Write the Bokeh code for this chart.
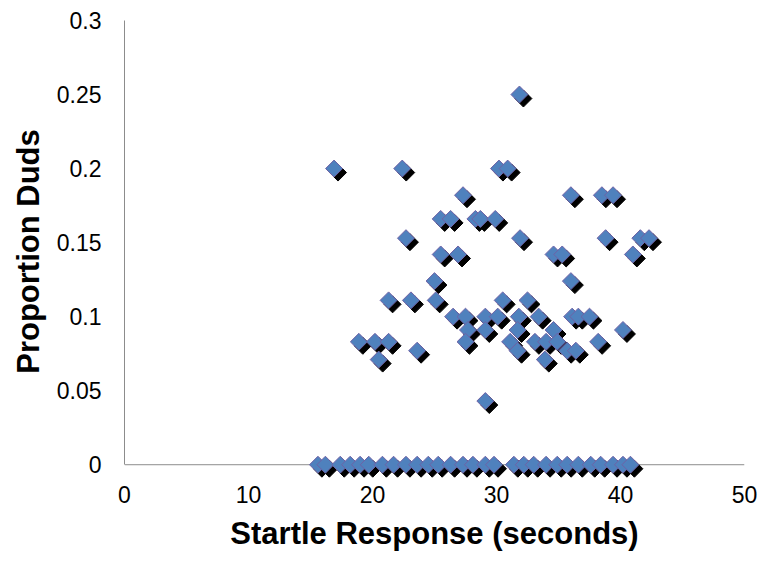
import numpy as np
from bokeh.plotting import figure
from bokeh.models import ColumnDataSource, FixedTicker, Range1d, Span
from bokeh.transform import dodge
from bokeh.embed import file_html
from bokeh.resources import INLINE

# Startle response (seconds) and proportion of duds
startle = [
    31.85,
    16.9, 22.4, 30.2, 30.9,
    27.3, 36.0, 38.5, 39.4,
    25.5, 26.3, 28.3, 28.7, 29.9,
    22.7, 31.9, 38.8, 41.6, 42.3,
    25.5, 26.9, 34.6, 35.3, 41.0,
    25.0, 36.0,
    21.3, 23.1, 25.1, 30.5, 32.5,
    26.5, 27.5, 29.1, 30.1, 31.8, 33.4, 36.1, 36.6, 37.5,
    27.7, 29.1, 31.7, 34.6, 40.2,
    18.9, 20.2, 21.3, 27.5, 31.1, 33.1, 34.0, 34.9, 38.2,
    23.6, 31.7, 35.7, 36.4,
    20.5, 33.9,
    29.1,
    15.6, 16.2, 17.4, 18.2, 19.0, 19.7, 20.8, 21.7, 22.7, 23.6, 24.5, 25.3,
    26.3, 27.3, 28.1, 29.1, 29.8, 31.4, 32.2, 33.0, 34.0, 34.9, 35.7, 36.6,
    37.6, 38.4, 39.4, 40.2, 40.8,
]
duds = [
    0.25,
    0.2, 0.2, 0.2, 0.2,
    0.182, 0.182, 0.182, 0.182,
    0.166, 0.166, 0.166, 0.166, 0.166,
    0.153, 0.153, 0.153, 0.153, 0.153,
    0.142, 0.142, 0.142, 0.142, 0.142,
    0.124, 0.124,
    0.111, 0.111, 0.111, 0.111, 0.111,
    0.1, 0.1, 0.1, 0.1, 0.1, 0.1, 0.1, 0.1, 0.1,
    0.091, 0.091, 0.091, 0.091, 0.091,
    0.083, 0.083, 0.083, 0.083, 0.083, 0.083, 0.083, 0.083, 0.083,
    0.077, 0.077, 0.077, 0.077,
    0.071, 0.071,
    0.043,
    0, 0, 0, 0, 0, 0, 0, 0, 0, 0, 0, 0,
    0, 0, 0, 0, 0, 0, 0, 0, 0, 0, 0, 0,
    0, 0, 0, 0, 0,
]

x_ticks = [0, 10, 20, 30, 40, 50]
y_ticks = [0, 0.05, 0.1, 0.15, 0.2, 0.25, 0.3]
y_tick_labels = {0: "0", 0.05: "0.05", 0.1: "0.1", 0.15: "0.15", 0.2: "0.2", 0.25: "0.25", 0.3: "0.3"}

src = ColumnDataSource(dict(x=startle, y=duds))

p = figure(width=766, height=560, output_backend="svg", toolbar_location=None,
           x_range=Range1d(0, 50), y_range=Range1d(-0.012, 0.3),
           min_border_left=124, min_border_right=22, min_border_top=20, min_border_bottom=78)
p.outline_line_color = None
p.xgrid.visible = False
p.ygrid.visible = False

# x axis line at y = 0 (drawn below the markers)
p.add_layout(Span(location=0, dimension="width", line_color="#8C8C8C", line_width=1, level="underlay"))

# shadow (offset ~4px)
p.scatter(x=dodge("x", 0.32), y=dodge("y", -0.0027), source=src, marker="square",
          angle=np.pi / 4, size=12, fill_color="black", line_color="black", line_width=1)
p.scatter(x="x", y="y", source=src, marker="square", angle=np.pi / 4, size=12,
          fill_color="#4F81BD", line_color="#6F62A6", line_width=1)

for ax in (p.xaxis[0], p.yaxis[0]):
    ax.axis_line_color = "#8C8C8C"
    ax.axis_line_width = 1
    ax.major_tick_line_color = None
    ax.minor_tick_line_color = None
    ax.major_tick_out = 0
    ax.major_tick_in = 0
    ax.minor_tick_out = 0
    ax.minor_tick_in = 0
    ax.major_label_text_font = "Liberation Sans"
    ax.major_label_text_font_size = "23px"
    ax.major_label_text_color = "black"
    ax.axis_label_text_font = "Liberation Sans"
    ax.axis_label_text_font_style = "bold"
    ax.axis_label_text_font_size = "31px"
    ax.axis_label_text_color = "black"

p.xaxis.axis_line_color = None
p.yaxis.bounds = (0, 0.3)
p.xaxis.ticker = FixedTicker(ticks=x_ticks)
p.yaxis.ticker = FixedTicker(ticks=y_ticks)
p.yaxis.major_label_overrides = y_tick_labels
p.xaxis.major_label_standoff = 3
p.yaxis.major_label_standoff = 23
p.xaxis.axis_label = "Startle Response (seconds)"
p.yaxis.axis_label = "Proportion Duds"
p.xaxis.axis_label_standoff = 10
p.yaxis.axis_label_standoff = 8

open("out.html", "w").write(file_html(p, INLINE))
